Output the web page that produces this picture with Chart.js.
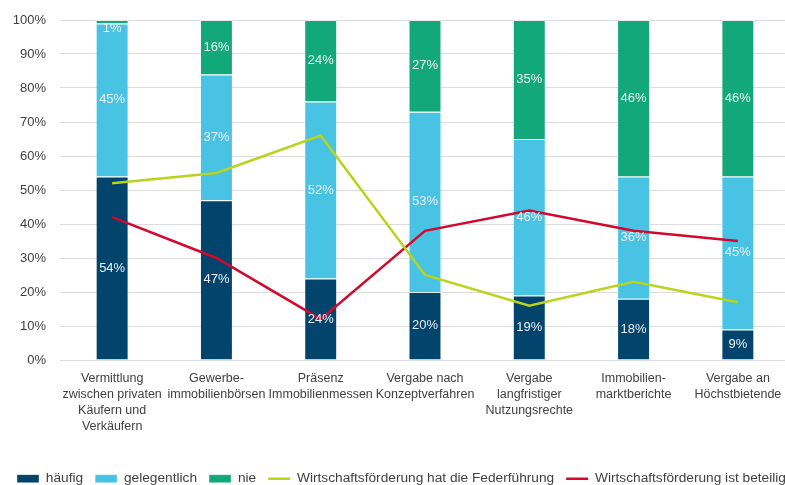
<!DOCTYPE html>
<html>
<head>
<meta charset="utf-8">
<script src="https://cdn.jsdelivr.net/npm/chart.js@4/dist/chart.umd.min.js"></script>
<style>
  html, body { margin: 0; padding: 0; background: #fff; overflow: hidden; }
  #wrap { width: 815px; height: 485px; }
</style>
</head>
<body>
<div id="wrap"><canvas id="myChart" width="815" height="485"></canvas></div>
<script>
// categories (multi-line labels)
var categories = [
  ["Vermittlung", "zwischen privaten", "Käufern und", "Verkäufern"],
  ["Gewerbe-", "immobilienbörsen"],
  ["Präsenz", "Immobilienmessen"],
  ["Vergabe nach", "Konzeptverfahren"],
  ["Vergabe", "langfristiger", "Nutzungsrechte"],
  ["Immobilien-", "marktberichte"],
  ["Vergabe an", "Höchstbietende"]
];

// stacked bar series (percent)
var haeufig = [54, 47, 24, 20, 19, 18, 9];
var gelegentlich = [45, 37, 52, 53, 46, 36, 45];
var nie = [1, 16, 24, 27, 35, 46, 46];

// line series (percent)
var federfuehrung = [52, 55, 66, 25, 16, 23, 17];
var beteiligt = [42, 30, 12, 38, 44, 38, 35];

var yTicks = [0, 10, 20, 30, 40, 50, 60, 70, 80, 90, 100];

var fontFam = "'Liberation Sans', Arial, sans-serif";

// draw the % values inside the bar segments
var barLabels = {
  id: 'barLabels',
  afterDatasetsDraw: function(chart) {
    var ctx = chart.ctx;
    ctx.save();
    ctx.font = "13px " + fontFam;
    ctx.fillStyle = "#eaf0f3";
    ctx.textAlign = "center";
    ctx.textBaseline = "middle";
    chart.data.datasets.forEach(function(ds, i) {
      if (ds.type !== 'bar') return;
      var meta = chart.getDatasetMeta(i);
      meta.data.forEach(function(bar, j) {
        var top = Math.min(bar.y, bar.base);
        var y = Math.max((bar.y + bar.base) / 2, top + 8);
        ctx.fillText(ds.data[j] + "%", bar.x, y);
      });
    });
    ctx.restore();
  }
};

var el = document.getElementById("myChart");
var myChart = new Chart(el, {
  data: {
    labels: categories,
    datasets: [
      { type: 'bar', label: 'häufig', data: haeufig, backgroundColor: '#02446b',
        borderColor: 'rgba(255,255,255,0.35)', borderWidth: 1, order: 2, pointStyle: 'rect' },
      { type: 'bar', label: 'gelegentlich', data: gelegentlich, backgroundColor: '#49c3e4',
        borderColor: 'rgba(255,255,255,0.35)', borderWidth: 1, order: 2, pointStyle: 'rect' },
      { type: 'bar', label: 'nie', data: nie, backgroundColor: '#12a879',
        borderColor: 'rgba(255,255,255,0.35)', borderWidth: 1, order: 2, pointStyle: 'rect' },
      { type: 'line', label: 'Wirtschaftsförderung hat die Federführung', data: federfuehrung,
        borderColor: '#b9d41c', backgroundColor: '#b9d41c', borderWidth: 2.5, pointRadius: 0,
        tension: 0, order: 1, pointStyle: 'line', stack: 'l1' },
      { type: 'line', label: 'Wirtschaftsförderung ist beteiligt', data: beteiligt,
        borderColor: '#d3082d', backgroundColor: '#d3082d', borderWidth: 2.5, pointRadius: 0,
        tension: 0, order: 1, pointStyle: 'line', stack: 'l2' }
    ]
  },
  options: {
    responsive: false,
    animation: false,
    devicePixelRatio: 1,
    layout: { padding: { top: 20, right: 0, left: 5, bottom: -10.5 } },
    datasets: { bar: { barPercentage: 0.316, categoryPercentage: 1 } },
    scales: {
      x: {
        stacked: true,
        grid: { display: false, drawTicks: false },
        border: { display: false },
        ticks: { color: '#404040', font: { family: fontFam, size: 12.5, lineHeight: 1.26 }, padding: 11, maxRotation: 0, autoSkip: false },
        afterFit: function(scale) { scale.height = 99.8; }
      },
      y: {
        stacked: true,
        min: 0, max: 100,
        grid: { color: '#dcdcdc', lineWidth: 1, drawTicks: false },
        border: { display: false },
        afterBuildTicks: function(scale) {
          scale.ticks = yTicks.map(function(v) { return { value: v }; });
        },
        ticks: { color: '#404040', font: { family: fontFam, size: 13 }, padding: 14,
          callback: function(v) { return v + '%'; } },
        afterFit: function(scale) { scale.width = 55; scale.paddingTop = 0; }
      },
      // empty spacer on the right so the legend row can run past the plot
      y2: {
        position: 'right',
        min: 0, max: 100,
        grid: { display: false, drawTicks: false },
        border: { display: false },
        ticks: { display: false },
        afterFit: function(scale) { scale.width = 25; scale.paddingTop = 0; }
      }
    },
    plugins: {
      tooltip: { enabled: false },
      legend: {
        position: 'bottom',
        align: 'start',
        labels: {
          color: '#404040',
          font: { family: fontFam, size: 13.7 },
          usePointStyle: true,
          pointStyleWidth: 22,
          boxHeight: 8,
          padding: 12,
          sort: function(a, b) { return a.datasetIndex - b.datasetIndex; }
        }
      }
    }
  },
  plugins: [barLabels]
});
</script>
</body>
</html>
